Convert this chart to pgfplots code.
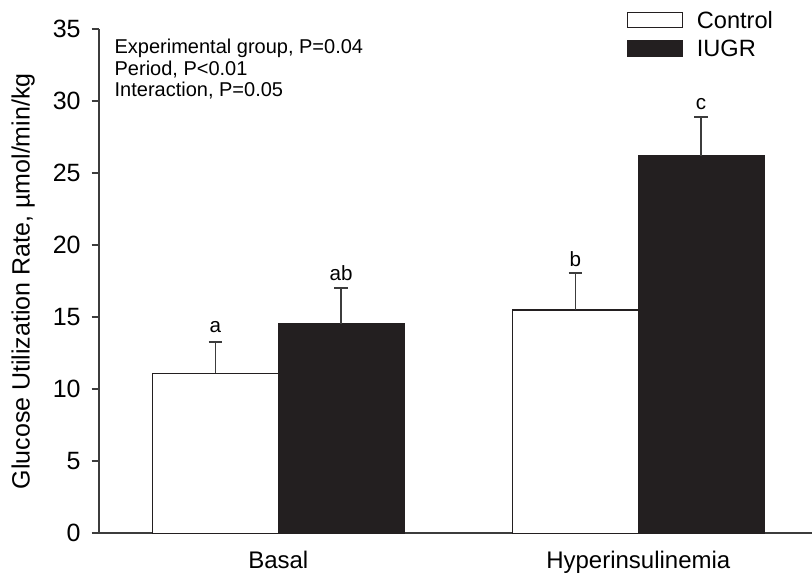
\documentclass[border=0pt]{standalone}
\usepackage{fontspec}
\setmainfont{Liberation Sans}
\usepackage{pgfplots}
\pgfplotsset{compat=1.18}
\definecolor{barfill}{RGB}{35,31,32}
\definecolor{axgray}{RGB}{60,60,60}
\begin{document}
\begin{tikzpicture}
\begin{axis}[
  scale only axis, width=356.35pt, height=252pt,
  xmin=-0.4972, xmax=1.4825, ymin=0, ymax=35,
  axis x line=bottom, axis y line=left,
  axis line style={line width=0.9pt, color=axgray, -},
  xtick={0,1}, xticklabels={Basal,Hyperinsulinemia},
  xtick style={draw=none},
  ytick={0,5,...,35},
  tick align=outside, major tick length=3.8pt,
  ytick style={line width=0.9pt, color=axgray},
  yticklabel style={font=\fontsize{12.5}{14}\selectfont, xshift=-2pt},
  xticklabel style={font=\fontsize{12}{14}\selectfont, yshift=-1.75pt},
  /pgf/number format/assume math mode=true,
  ylabel={Glucose Utilization Rate, µmol/min/kg},
  every axis y label/.style={at={(rel axis cs:-0.0979,0.5)}, anchor=base, rotate=90, font=\fontsize{12.5}{14}\selectfont},
  ybar, bar width=0.349,
  clip=false,
  legend style={draw=none, fill=none, at={(rel axis cs:0.7408,1.0363)}, anchor=north west,
    inner sep=0pt, outer sep=0pt, font=\fontsize{11.8}{14}\selectfont, row sep=4.5pt,
    nodes={inner sep=0pt}, /tikz/every odd column/.append style={column sep=6.7pt}},
  legend cell align=left,
  legend image code/.code={\draw[#1, line width=0.6pt] (0pt,-3.1pt) rectangle (27.5pt,4.4pt);},
  error bars/y dir=plus, error bars/y explicit,
  error bars/error bar style={line width=0.9pt, color=axgray},
  error bars/error mark options={rotate=90, mark size=3.4pt, line width=0.9pt, color=axgray},
]
\addplot[bar shift=-0.1745, fill=white, draw=barfill, line width=0.6pt]
  coordinates {(0,11.11) +- (0,2.20) (1,15.51) +- (0,2.55)};
\addlegendentry{Control}
\addplot[bar shift=0.1745, fill=barfill, draw=barfill, line width=0.6pt]
  coordinates {(0,14.53) +- (0,2.53) (1,26.20) +- (0,2.69)};
\addlegendentry{IUGR}

\node[anchor=base west, inner sep=0pt, font=\fontsize{10}{12}\selectfont] at (rel axis cs:0.021,0.9524) {Experimental group, P=0.04};
\node[anchor=base west, inner sep=0pt, font=\fontsize{10}{12}\selectfont] at (rel axis cs:0.021,0.9093) {Period, P<0.01};
\node[anchor=base west, inner sep=0pt, font=\fontsize{10}{12}\selectfont] at (rel axis cs:0.021,0.8663) {Interaction, P=0.05};

\node[anchor=base, inner sep=0pt, font=\fontsize{10.3}{12}\selectfont] at (axis cs:-0.1745,13.93) {a};
\node[anchor=base, inner sep=0pt, font=\fontsize{10.3}{12}\selectfont] at (axis cs:0.1745,17.59) {ab};
\node[anchor=base, inner sep=0pt, font=\fontsize{10.3}{12}\selectfont] at (axis cs:0.8255,18.56) {b};
\node[anchor=base, inner sep=0pt, font=\fontsize{10.3}{12}\selectfont] at (axis cs:1.1745,29.40) {c};

\coordinate (bbsw) at (rel axis cs:-0.1393,-0.09464);
\coordinate (bbne) at (rel axis cs:1,1.05813);
\end{axis}
\pgfresetboundingbox
\path[use as bounding box] (bbsw) rectangle (bbne);
\end{tikzpicture}
\end{document}
